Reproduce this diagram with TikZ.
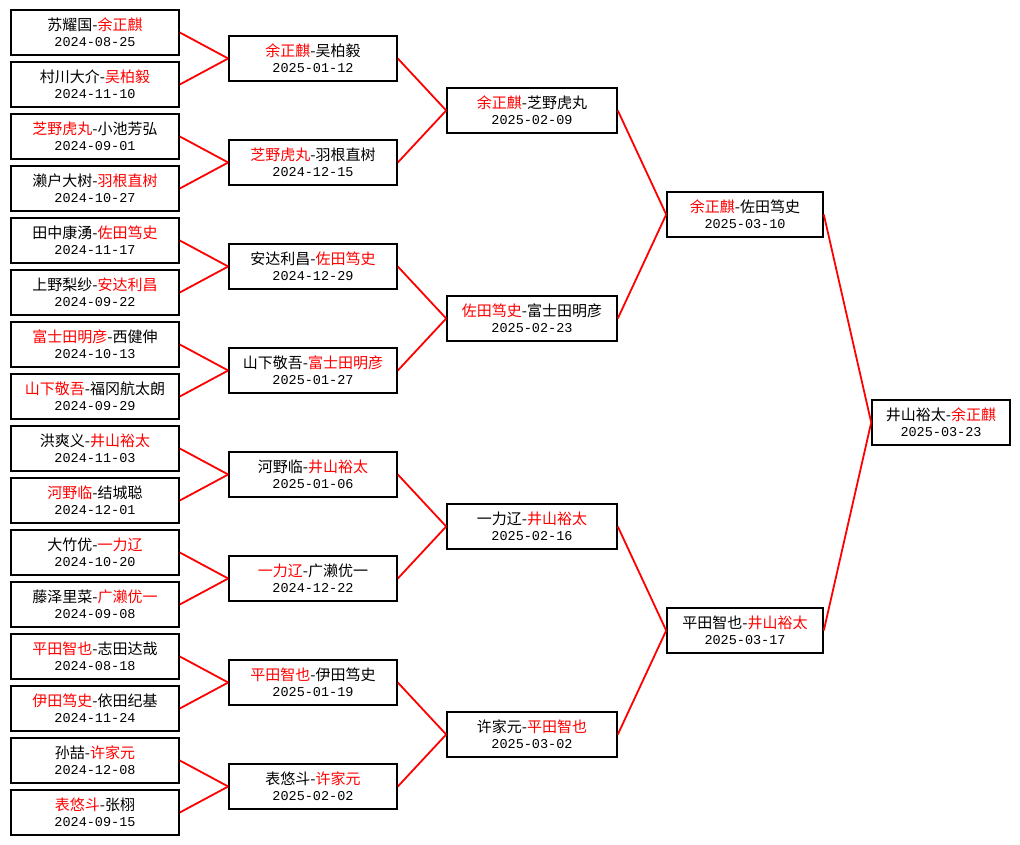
\documentclass[tikz,border=0pt]{standalone}
\usepackage{fontspec}
\setmainfont{Noto Sans CJK SC}
\newfontfamily\mono{Liberation Mono}
\newcommand\w[1]{\textcolor{red}{#1}}
\newcommand\dat[1]{{\mono\fontsize{13.5}{16}\selectfont #1}}
\begin{document}
\begin{tikzpicture}[x=1pt,y=-1pt,
        m/.style ={draw, line width=1.6pt, minimum height=45pt, inner sep=0pt,
                   align=center, font=\fontsize{15}{16}\selectfont},
        r/.style ={red, line width=1.8pt}]
        \fill[white] (0,0) rectangle (1020,845);
        \foreach \pl/\dt [count=\i from 0] in {{苏耀国-\w{余正麒}}/2024-08-25,{村川大介-\w{吴柏毅}}/2024-11-10,
            {\w{芝野虎丸}-小池芳弘}/2024-09-01,{濑户大树-\w{羽根直树}}/2024-10-27,
            {田中康湧-\w{佐田笃史}}/2024-11-17,{上野梨纱-\w{安达利昌}}/2024-09-22,
            {\w{富士田明彦}-西健伸}/2024-10-13,{\w{山下敬吾}-福冈航太朗}/2024-09-29,
            {洪爽义-\w{井山裕太}}/2024-11-03,{\w{河野临}-结城聪}/2024-12-01,
            {大竹优-\w{一力辽}}/2024-10-20,{藤泽里菜-\w{广濑优一}}/2024-09-08,
            {\w{平田智也}-志田达哉}/2024-08-18,{\w{伊田笃史}-依田纪基}/2024-11-24,
            {孙喆-\w{许家元}}/2024-12-08,{\w{表悠斗}-张栩}/2024-09-15}
            {\node[m, minimum width=168pt] (a\i) at (95,{32.5+52*\i}) {\pl\\\dat{\dt}};}
        \foreach \pl/\dt [count=\i from 0] in {{\w{余正麒}-吴柏毅}/2025-01-12,{\w{芝野虎丸}-羽根直树}/2024-12-15,
            {安达利昌-\w{佐田笃史}}/2024-12-29,{山下敬吾-\w{富士田明彦}}/2025-01-27,
            {河野临-\w{井山裕太}}/2025-01-06,{\w{一力辽}-广濑优一}/2024-12-22,
            {\w{平田智也}-伊田笃史}/2025-01-19,{表悠斗-\w{许家元}}/2025-02-02}
            {\node[m, minimum width=168pt] (b\i) at (313,{58.5+104*\i}) {\pl\\\dat{\dt}};}
        \foreach \pl/\dt [count=\i from 0] in {{\w{余正麒}-芝野虎丸}/2025-02-09,{\w{佐田笃史}-富士田明彦}/2025-02-23,
            {一力辽-\w{井山裕太}}/2025-02-16,{许家元-\w{平田智也}}/2025-03-02}
            {\node[m, minimum width=170pt] (c\i) at (532,{110.5+208*\i}) {\pl\\\dat{\dt}};}
        \foreach \pl/\dt [count=\i from 0] in {{\w{余正麒}-佐田笃史}/2025-03-10,{平田智也-\w{井山裕太}}/2025-03-17}
            {\node[m, minimum width=156pt] (d\i) at (745,{214.5+416*\i}) {\pl\\\dat{\dt}};}
        \node[m, minimum width=138pt] (e0) at (941,422.5) {井山裕太-\w{余正麒}\\\dat{2025-03-23}};
% 连线
        \foreach \i in {0,...,15} {\pgfmathtruncatemacro\j{\i/2}\draw[r] (a\i.east) -- (b\j.west);}
        \foreach \i in {0,...,7}  {\pgfmathtruncatemacro\j{\i/2}\draw[r] (b\i.east) -- (c\j.west);}
        \foreach \i in {0,...,3}  {\pgfmathtruncatemacro\j{\i/2}\draw[r] (c\i.east) -- (d\j.west);}
        \foreach \i in {0,1}      {\draw[r] (d\i.east) -- (e0.west);}
    \end{tikzpicture}
\end{document}
